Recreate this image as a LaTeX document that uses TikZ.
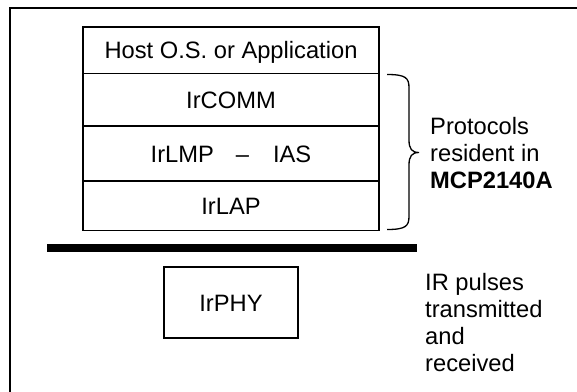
\documentclass[tikz,border=0pt]{standalone}
\usepackage{fontspec}
\setmainfont{Liberation Sans}
\begin{document}
\begin{tikzpicture}[x=1pt,y=-1pt,
  layer/.style={draw,line width=1.8pt,minimum width=296pt,inner sep=0pt,
    text height=17pt,text depth=0pt,font=\fontsize{23.7}{27}\selectfont},
  note/.style={align=left,anchor=base west,inner sep=0pt,font=\fontsize{23.7}{27}\selectfont}]
\useasboundingbox (0,0) rectangle (577,391);
% frame
\coordinate (fa) at (10,395);
\coordinate (fb) at (10,7.5);
\coordinate (fc) at (580,7.5);
\draw[line width=2pt] (fa) -- (fb) -- (fc);
% stack
\node[layer,minimum height=46.5pt] (host) at (231,50.25) {Host O.S. or Application};
\node[layer,minimum height=52.5pt] (comm) at (231,99.75) {IrCOMM};
\node[layer,minimum height=55pt] (lmp) at (231,153.5) {IrLMP\hspace{22pt}–\hspace{24pt}IAS};
\node[layer,minimum height=49.5pt] (lap) at (231,205.75) {IrLAP};
% brace
\coordinate (bt) at (387,74.5);
\coordinate (bm) at (419,152.5);
\coordinate (bb) at (387,229.5);
\draw[line width=1.3pt] (bt) .. controls (406,74.5) and (409,78) .. (409,88)
  -- (409,140) .. controls (409,149) and (412,152.5) .. (bm)
  .. controls (412,152.5) and (409,156) .. (409,165)
  -- (409,216) .. controls (409,226) and (406,229.5) .. (bb);
% bar
\coordinate (ba) at (47,248);
\coordinate (bz) at (417,248);
\draw[line width=8pt] (ba) -- (bz);
% phy
\node[layer,minimum width=134pt,minimum height=71.5pt] (phy) at (231,302.5) {IrPHY};
% notes
\node[note] (prot) at (430,188.3) {Protocols\\resident in\\\textbf{MCP2140A}};
\node[note] (ir) at (425,371.7) {IR pulses\\transmitted\\and\\received};
\end{tikzpicture}
\end{document}
